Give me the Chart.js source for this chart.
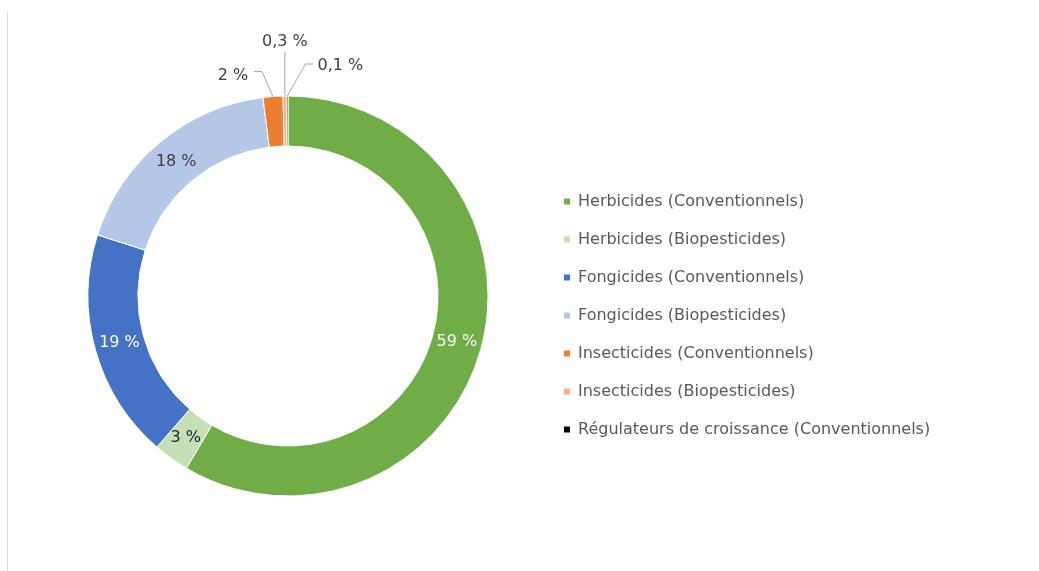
<!DOCTYPE html>
<html>
<head>
<meta charset="utf-8">
<script src="https://cdn.jsdelivr.net/npm/chart.js@4/dist/chart.umd.min.js"></script>
<style>
  html, body { margin: 0; padding: 0; background: #fff; }
  #wrap { position: relative; width: 1039px; height: 571px; overflow: hidden; }
  #edge { position: absolute; left: 7px; top: 12px; bottom: 0; border-left: 1px solid #d9d9d9; }
  canvas { position: absolute; left: 0; top: 0; }
</style>
</head>
<body>
<div id="wrap">
  <div id="edge"></div>
  <canvas id="ring" width="1039" height="571"></canvas>
</div>
<script>
// Répartition des ventes de pesticides par type (%)
const labels = [
  'Herbicides (Conventionnels)',
  'Herbicides (Biopesticides)',
  'Fongicides (Conventionnels)',
  'Fongicides (Biopesticides)',
  'Insecticides (Conventionnels)',
  'Insecticides (Biopesticides)',
  'Régulateurs de croissance (Conventionnels)',
]
const shares = [58.6, 2.9, 18.6, 18.1, 1.6, 0.3, 0.1]
const colors = ['#70ad47', '#c5e0b4', '#4472c4', '#b4c7e7', '#ed7d31', '#f4b183', '#000000']

const W = 1039, H = 571
const font = '"DejaVu Sans", sans-serif'
const labelInk = ['#ffffff', '#262626', '#ffffff', '#404040']
// small slices get their label outside, with a leader line (offsets from the slice's outer edge)
const callouts = {
  4: { label: [-40, -21], elbow: [-11, -25], stub: -8 },
  5: { label: [0, -54], elbow: [0, -44], stub: 0 },
  6: { label: [53, -30], elbow: [18, -32], stub: 8 },
}

const fmt = (v) => (v >= 1 ? String(Math.round(v)) : v.toFixed(1).replace('.', ',')) + ' %'

// legend text should start at x=578; chart.js puts the longest label's end at (width - padRight - 10)
const legendTextX = 578, boxW = 6, legendPad = 22, legendSize = 16
const probe = document.createElement('canvas').getContext('2d')
probe.font = legendSize + 'px ' + font
const widest = Math.max(...labels.map((t) => probe.measureText(t).width))
const padRight = W - legendTextX - 10 - widest
const legendLeft = legendTextX - legendPad - boxW - legendSize / 2
const padLeft = 2 * 288 - legendLeft

const sliceLabels = {
  id: 'sliceLabels',
  afterDatasetsDraw(chart) {
    const { ctx } = chart
    const arcs = chart.getDatasetMeta(0).data
    ctx.save()
    ctx.font = '16px ' + font
    ctx.textAlign = 'center'
    ctx.textBaseline = 'middle'
    arcs.forEach((arc, i) => {
      const { x, y, startAngle, endAngle, innerRadius, outerRadius } =
        arc.getProps(['x', 'y', 'startAngle', 'endAngle', 'innerRadius', 'outerRadius'], true)
      const mid = (startAngle + endAngle) / 2
      const text = fmt(shares[i])
      const c = callouts[i]
      if (!c) {
        const r = (innerRadius + outerRadius) / 2
        ctx.fillStyle = labelInk[i]
        ctx.fillText(text, x + Math.cos(mid) * r, y + Math.sin(mid) * r)
        return
      }
      const ax = x + Math.cos(mid) * outerRadius
      const ay = y + Math.sin(mid) * outerRadius
      const ex = ax + c.elbow[0], ey = ay + c.elbow[1]
      ctx.strokeStyle = '#a6a6a6'
      ctx.lineWidth = 1
      ctx.beginPath()
      ctx.moveTo(ax, ay)
      ctx.lineTo(ex, ey)
      if (c.stub) ctx.lineTo(ex + c.stub, ey)
      ctx.stroke()
      ctx.fillStyle = '#404040'
      ctx.fillText(text, ax + c.label[0], ay + c.label[1])
    })
    ctx.restore()
  },
}

new Chart(document.getElementById('ring'), {
  type: 'doughnut',
  data: {
    labels,
    datasets: [{
      data: shares,
      backgroundColor: colors,
      borderColor: '#ffffff',
      borderWidth: 1,
    }],
  },
  options: {
    responsive: false,
    animation: false,
    devicePixelRatio: 1,
    radius: 200,
    cutout: '75%',
    layout: { padding: { left: padLeft, right: padRight, top: 21, bottom: 0 } },
    plugins: {
      legend: {
        position: 'right',
        align: 'center',
        title: { display: true, text: '', font: { size: 10 }, padding: { top: 14, bottom: 13 } },
        labels: {
          boxWidth: boxW,
          boxHeight: boxW,
          padding: legendPad,
          color: '#595959',
          font: { family: font, size: legendSize },
          generateLabels: (chart) =>
            Chart.overrides.doughnut.plugins.legend.labels.generateLabels(chart)
              .map((item) => ({ ...item, lineWidth: 0 })),
        },
      },
      tooltip: { enabled: false },
    },
  },
  plugins: [sliceLabels],
})
</script>
</body>
</html>
